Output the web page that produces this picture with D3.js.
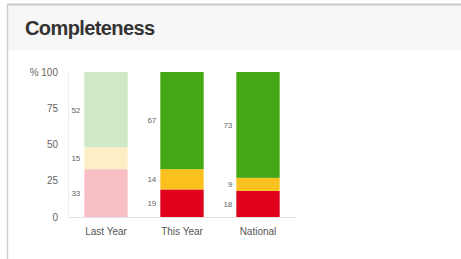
<!DOCTYPE html>
<html>
<head>
<meta charset="utf-8">
<script src="https://cdn.jsdelivr.net/npm/d3@7"></script>
<style>
  body { margin: 0; background: #fff; font-family: "Liberation Sans", Arial, sans-serif; }
  svg { display: block; }
</style>
</head>
<body>
<svg id="chart" width="461" height="259"></svg>
<script>
const categories = ["Last Year", "This Year", "National"];
const redValues = [33, 19, 18];
const amberValues = [15, 14, 9];
const greenValues = [52, 67, 73];
const yTicks = [0, 25, 50, 75, 100];

const palettes = [
  {red: "#f7bec6", amber: "#fdeec5", green: "#cfe8c5"},
  {red: "#e1001b", amber: "#fbc11f", green: "#44a814"},
  {red: "#e1001b", amber: "#fbc11f", green: "#44a814"}
];

const svg = d3.select("#chart");

// panel frame and header
svg.append("rect").attr("x", 8).attr("y", 5).attr("width", 453).attr("height", 45).attr("fill", "#f7f7f7");
svg.append("line").attr("x1", 7).attr("x2", 461).attr("y1", 4.5).attr("y2", 4.5)
  .attr("stroke", "#c8c8c8").attr("stroke-width", 2);
svg.append("line").attr("x1", 7.5).attr("x2", 7.5).attr("y1", 4).attr("y2", 259)
  .attr("stroke", "#cfcfcf").attr("stroke-width", 1.5);
svg.append("text").attr("x", 25).attr("y", 35).text("Completeness")
  .attr("font-size", 20).attr("font-weight", "bold").attr("fill", "#333")
  .attr("letter-spacing", -0.6);

const x = d3.scaleBand().domain(categories).range([68, 296]).paddingInner(0.43).paddingOuter(0.215);
const y = d3.scaleLinear().domain([0, 100]).range([217, 72]);

const rows = categories.map((c, i) => ({cat: c, red: redValues[i], amber: amberValues[i], green: greenValues[i], i}));
const stack = d3.stack().keys(["red", "amber", "green"])(rows);

// axes lines
svg.append("line").attr("x1", 68.5).attr("x2", 68.5).attr("y1", y(100)).attr("y2", y(0))
  .attr("stroke", "#eeeeee");
svg.append("line").attr("x1", 68).attr("x2", 296).attr("y1", y(0) + 0.5).attr("y2", y(0) + 0.5)
  .attr("stroke", "#e3e3e3");

// y tick labels
svg.append("g").selectAll("text").data(yTicks).join("text")
  .attr("x", 58).attr("y", d => y(d)).attr("dy", "0.35em")
  .attr("text-anchor", "end").attr("font-size", 10).attr("fill", "#666")
  .text(d => d === 100 ? "% 100" : d);

// bars
stack.forEach(layer => {
  const key = layer.key;
  svg.append("g").selectAll("rect").data(layer).join("rect")
    .attr("x", d => x(d.data.cat))
    .attr("y", d => y(d[1]))
    .attr("width", x.bandwidth())
    .attr("height", d => y(d[0]) - y(d[1]))
    .attr("fill", d => palettes[d.data.i][key]);

  svg.append("g").selectAll("text").data(layer).join("text")
    .attr("x", d => x(d.data.cat) - 4)
    .attr("y", d => (y(d[0]) + y(d[1])) / 2)
    .attr("dy", "0.35em")
    .attr("text-anchor", "end").attr("font-size", 8).attr("fill", "#666")
    .text(d => d.data[key]);
});

// category labels
svg.append("g").selectAll("text").data(categories).join("text")
  .attr("x", d => x(d) + x.bandwidth() / 2).attr("y", 231).attr("dy", "0.35em")
  .attr("text-anchor", "middle").attr("font-size", 10).attr("fill", "#555")
  .text(d => d);
</script>
</body>
</html>
